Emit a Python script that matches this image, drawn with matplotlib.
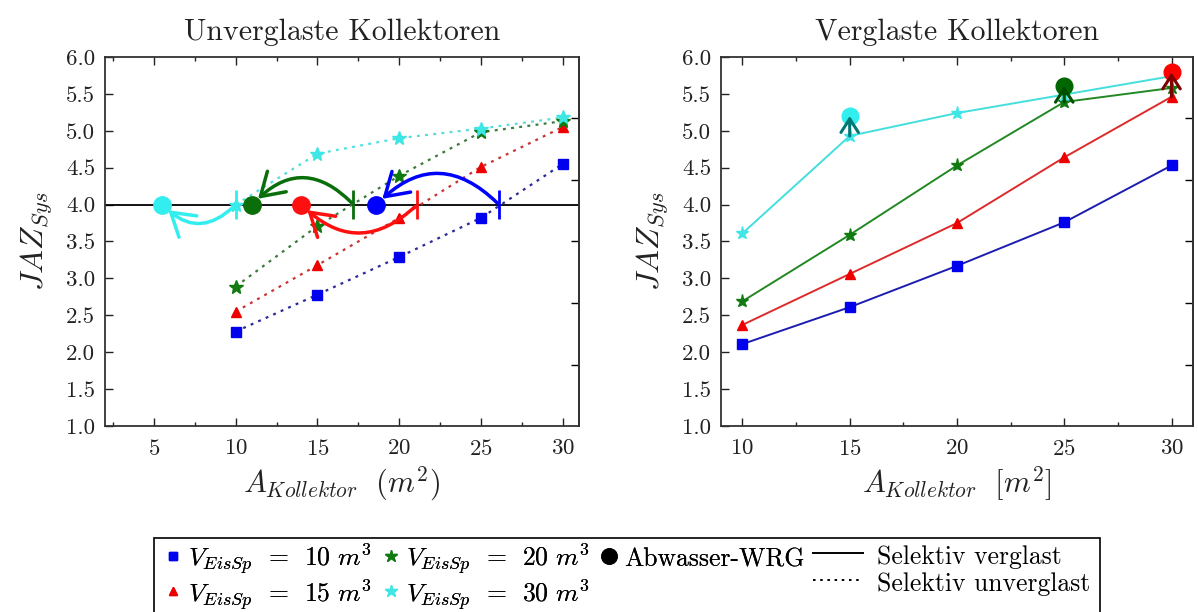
import numpy as np
import matplotlib
matplotlib.use('Agg')
import matplotlib.pyplot as plt
from matplotlib.patches import FancyArrowPatch, Rectangle
from matplotlib.lines import Line2D
from matplotlib.ticker import MultipleLocator, FormatStrFormatter

plt.rcParams['font.family'] = 'cmr10'
plt.rcParams['mathtext.fontset'] = 'cm'
plt.rcParams['axes.formatter.use_mathtext'] = True

# ── Daten ────────────────────────────────────────────────────
A_kollektor = [10, 15, 20, 25, 30]

# Selektiv unverglast (links, gepunktet)
jaz_unv_10 = [2.28, 2.78, 3.29, 3.82, 4.55]
jaz_unv_15 = [2.55, 3.18, 3.82, 4.51, 5.05]
jaz_unv_20 = [2.89, 3.71, 4.39, 4.98, 5.13]
jaz_unv_30 = [4.00, 4.69, 4.90, 5.03, 5.18]

# Selektiv verglast (rechts, durchgezogen)
jaz_vgl_10 = [2.11, 2.61, 3.17, 3.76, 4.53]
jaz_vgl_15 = [2.37, 3.06, 3.75, 4.64, 5.46]
jaz_vgl_20 = [2.69, 3.59, 4.53, 5.39, 5.58]
jaz_vgl_30 = [3.61, 4.93, 5.24, 5.49, 5.74]

# Abwasser-WRG links: Reihenfolge 10, 15, 20, 30 m3
jaz_ziel = 4.0
wrg_links_x = [18.6, 14.0, 11.0, 5.5]
schnitt_links_x = [26.1, 21.1, 17.2, 10.0]   # Schnitt der Kurven mit JAZ = 4

# Abwasser-WRG rechts: 30, 20, 15 m3
wrg_rechts_x = [15, 25, 30]
wrg_rechts_von = [4.93, 5.39, 5.46]
wrg_rechts_jaz = [5.20, 5.61, 5.79]

# ── Stil ─────────────────────────────────────────────────────
C_MARK = ['#0000ee', '#ee0000', '#117a11', '#3fe6e6']
C_LINE_UNV = ['#2a2a9a', '#cc3333', '#3a7a3a', '#55dddd']
C_LINE_VGL = ['#1c1cb0', '#dd2a2a', '#228822', '#44dede']
C_WRG_L = ['#0000ff', '#ff1010', '#0a6e0a', '#33eeee']
MARKERS = ['s', '^', '*', '*']
MSIZE = [7, 7, 10, 10]
DOT = (0, (1.3, 2.4))
TXT = '#222222'

fig = plt.figure(figsize=(11.98, 6.12), dpi=100)
ax1 = fig.add_axes([0.0876, 0.3039, 0.3957, 0.603])
ax2 = fig.add_axes([0.6018, 0.3039, 0.394, 0.603])


def style_axes(ax, xlim, title, xlabel):
    ax.set_xlim(*xlim)
    ax.set_ylim(1.0, 6.0)
    ax.xaxis.set_major_locator(MultipleLocator(5))
    ax.xaxis.set_minor_locator(MultipleLocator(2.5))
    ax.yaxis.set_major_locator(MultipleLocator(0.5))
    ax.yaxis.set_major_formatter(FormatStrFormatter('%.1f'))
    ax.tick_params(which='both', direction='in', top=True, right=False,
                   labelsize=16.5, colors=TXT)
    ax.tick_params(axis='y', pad=7)
    ax.tick_params(axis='x', pad=9)
    ax.tick_params(which='major', length=6, width=1.0)
    ax.tick_params(which='minor', length=3, width=1.0)
    for s in ax.spines.values():
        s.set_linewidth(1.3)
        s.set_color('#333333')
    ax.set_title(title, fontsize=21.5, pad=12, color=TXT)
    ax.set_xlabel(xlabel, fontsize=22, labelpad=4, color=TXT)
    ax.set_ylabel(r'$JAZ_{Sys}$', fontsize=23, labelpad=8, color=TXT)
    sec = ax.secondary_yaxis('right', functions=(lambda y: (y - 1) * 1.2,
                                                  lambda z: z / 1.2 + 1))
    sec.set_yticks([1, 2, 3, 4, 5])
    sec.set_yticklabels([])
    sec.tick_params(direction='in', length=6, width=1.0)
    sec.spines['right'].set_linewidth(1.3)
    sec.spines['right'].set_color('#333333')


# ── Links: unverglast ───────────────────────────────────────
style_axes(ax1, (2, 31), 'Unverglaste Kollektoren',
           r'$A_{Kollektor}\ \ (m^2)$')
ax1.axhline(jaz_ziel, color='black', lw=1.3, zorder=2)

serien_unv = [jaz_unv_10, jaz_unv_15, jaz_unv_20, jaz_unv_30]
for i, jaz in enumerate(serien_unv):
    ax1.plot(A_kollektor, jaz, linestyle=DOT, lw=1.6, color=C_LINE_UNV[i], zorder=3)
    ax1.plot(A_kollektor, jaz, linestyle='none', marker=MARKERS[i],
             ms=MSIZE[i], color=C_MARK[i], zorder=4)

ax1.vlines(schnitt_links_x, jaz_ziel - 0.2, jaz_ziel + 0.2, colors=C_WRG_L,
           lw=2.0, zorder=5)
for i in range(len(wrg_links_x)):
    ax1.plot(wrg_links_x[i], jaz_ziel, 'o', ms=12.5, color=C_WRG_L[i], zorder=6)

# Bogenpfeile: positive Kruemmung = nach oben
kruemmung = [0.5, -0.48, 0.52, -0.5]
for i, rad in enumerate(kruemmung):
    arr = FancyArrowPatch((schnitt_links_x[i], jaz_ziel), (wrg_links_x[i], jaz_ziel),
                          connectionstyle=f'arc3,rad={rad}',
                          arrowstyle='->,head_length=0.8,head_width=0.5',
                          mutation_scale=20, lw=2.5, color=C_WRG_L[i],
                          shrinkA=2, shrinkB=6, zorder=7)
    ax1.add_patch(arr)

# ── Rechts: verglast ────────────────────────────────────────
style_axes(ax2, (9, 31), 'Verglaste Kollektoren',
           r'$A_{Kollektor}\ \ [m^2]$')

serien_vgl = [jaz_vgl_10, jaz_vgl_15, jaz_vgl_20, jaz_vgl_30]
for i, jaz in enumerate(serien_vgl):
    ax2.plot(A_kollektor, jaz, linestyle='-', lw=1.4, color=C_LINE_VGL[i],
             marker=MARKERS[i], ms=MSIZE[i] - 0.5, mfc=C_MARK[i], mec=C_MARK[i],
             zorder=3)

C_WRG_R = ['#33eeee', '#006600', '#ff0000']
C_PFEIL_R = ['#007777', '#004d00', '#800000']
for i in range(len(wrg_rechts_x)):
    ax2.plot(wrg_rechts_x[i], wrg_rechts_jaz[i], 'o', ms=12, color=C_WRG_R[i], zorder=5)
    arr = FancyArrowPatch((wrg_rechts_x[i], wrg_rechts_von[i]),
                          (wrg_rechts_x[i], wrg_rechts_jaz[i]),
                          arrowstyle='->,head_length=0.7,head_width=0.45',
                          mutation_scale=14, lw=2.2, color=C_PFEIL_R[i],
                          shrinkA=0, shrinkB=0, zorder=6)
    ax2.add_patch(arr)

# ── Legende (zwei Teile in einem Rahmen) ─────────────────────
h_sq = Line2D([], [], ls='none', marker='s', ms=5.5, color=C_MARK[0])
h_tr = Line2D([], [], ls='none', marker='^', ms=6, color=C_MARK[1])
h_st20 = Line2D([], [], ls='none', marker='*', ms=9, color=C_MARK[2])
h_st30 = Line2D([], [], ls='none', marker='*', ms=9, color=C_MARK[3])
h_wrg = Line2D([], [], ls='none', marker='o', ms=11, color='black')
h_leer = Line2D([], [], ls='none')
h_vgl = Line2D([], [], ls='-', lw=1.4, color='black')
h_unv = Line2D([], [], ls=DOT, lw=1.4, color='black')

lab_v = [r'$V_{EisSp}\ \,=\ \,10\ m^3$', r'$V_{EisSp}\ \,=\ \,15\ m^3$',
         r'$V_{EisSp}\ \,=\ \,20\ m^3$', r'$V_{EisSp}\ \,=\ \,30\ m^3$']

LEG_KW = dict(loc='upper left', fontsize=18.5, frameon=False, borderpad=0.44,
              handleheight=1.25, labelspacing=0.0, borderaxespad=0)

leg1 = fig.legend([h_sq, h_tr, h_st20, h_st30, h_wrg, h_leer],
                  lab_v + ['Abwasser-WRG', ''], ncol=3,
                  bbox_to_anchor=(0.1285, 0.1330), handlelength=0.6,
                  handletextpad=0.28, columnspacing=0.47, **LEG_KW)
fig.add_artist(leg1)
leg2 = fig.legend([h_vgl, h_unv], ['Selektiv verglast', 'Selektiv unverglast'],
                  bbox_to_anchor=(0.6692, 0.1330), handlelength=1.95,
                  handletextpad=0.55, **LEG_KW)

fig.add_artist(Rectangle((0.1285, -0.1), 0.7896, 0.2209, transform=fig.transFigure,
                         fill=False, lw=1.2, edgecolor='black'))

plt.savefig('out.png', dpi=100)
